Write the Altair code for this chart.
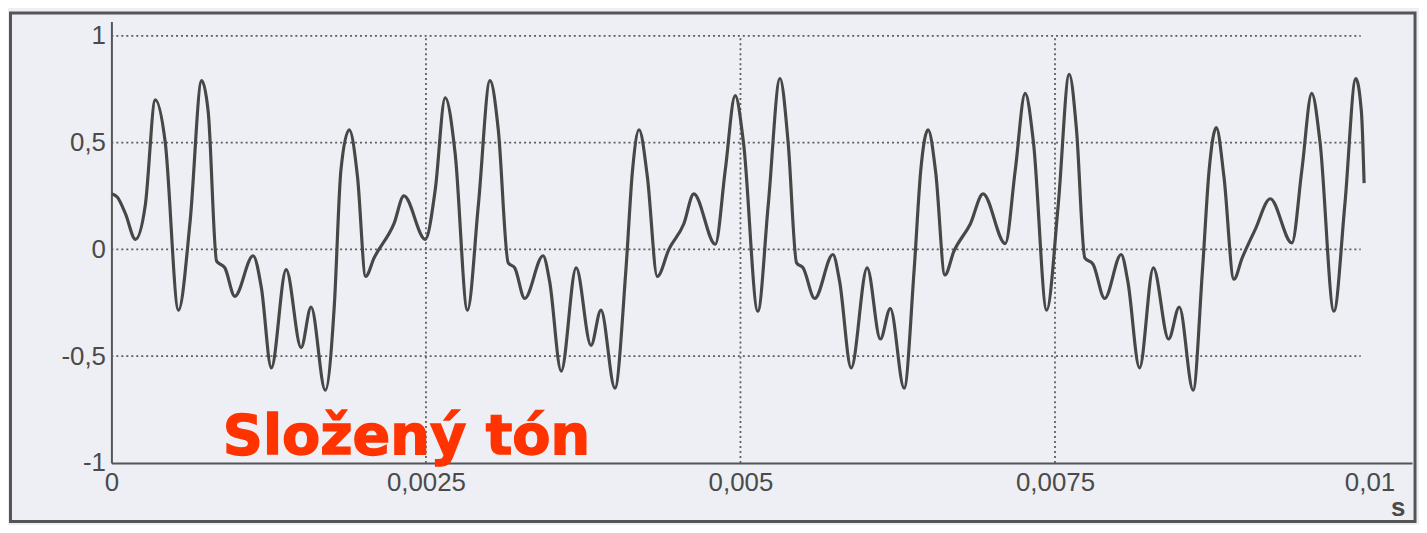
import altair as alt
import pandas as pd

# time in milliseconds (converted to seconds below) and amplitude
t_ms = [0.000, 0.046, 0.112, 0.191, 0.270, 0.349, 0.428, 0.533, 0.626, 0.717,
        0.770, 0.836, 0.902, 0.981, 1.126, 1.192, 1.271, 1.389, 1.508, 1.587,
        1.700, 1.772, 1.824, 1.890, 1.956, 2.021, 2.088, 2.246, 2.325, 2.495,
        2.574, 2.653, 2.732, 2.830, 2.917, 3.009, 3.075, 3.154, 3.206, 3.285,
        3.431, 3.483, 3.575, 3.694, 3.812, 3.891, 4.002, 4.089, 4.142, 4.194,
        4.260, 4.339, 4.431, 4.550, 4.629, 4.800, 4.879, 4.958, 5.024, 5.138,
        5.221, 5.314, 5.379, 5.446, 5.498, 5.590, 5.735, 5.788, 5.880, 6.007,
        6.112, 6.191, 6.301, 6.380, 6.433, 6.491, 6.552, 6.625, 6.696, 6.828,
        6.928, 7.105, 7.184, 7.263, 7.329, 7.434, 7.526, 7.613, 7.671, 7.737,
        7.803, 7.895, 8.026, 8.079, 8.172, 8.282, 8.403, 8.488, 8.598, 8.672,
        8.725, 8.782, 8.843, 8.922, 8.988, 9.093, 9.211, 9.383, 9.462, 9.541,
        9.607, 9.717, 9.804, 9.891, 9.936, 9.957]
amp = [0.26, 0.245, 0.166, 0.047, 0.21, 0.70, 0.50, -0.285, 0.134, 0.79,
       0.64, -0.055, -0.087, -0.22, -0.03, -0.18, -0.555, -0.095, -0.46, -0.27,
       -0.66, -0.26, 0.37, 0.56, 0.34, -0.127, -0.04, 0.12, 0.25, 0.047,
       0.28, 0.71, 0.45, -0.285, 0.21, 0.79, 0.56, -0.063, -0.087, -0.23,
       -0.03, -0.15, -0.57, -0.087, -0.45, -0.285, -0.65, -0.10, 0.37, 0.56,
       0.34, -0.127, 0.0, 0.12, 0.26, 0.024, 0.37, 0.72, 0.50, -0.29,
       0.21, 0.80, 0.50, -0.063, -0.087, -0.23, -0.024, -0.15, -0.555, -0.087,
       -0.42, -0.277, -0.65, -0.10, 0.37, 0.56, 0.36, -0.12, -0.01, 0.12,
       0.26, 0.027, 0.37, 0.73, 0.50, -0.285, 0.21, 0.82, 0.56, -0.04,
       -0.07, -0.23, -0.024, -0.15, -0.555, -0.087, -0.42, -0.27, -0.66, -0.10,
       0.37, 0.57, 0.34, -0.14, -0.04, 0.095, 0.237, 0.03, 0.37, 0.73,
       0.50, -0.29, 0.21, 0.80, 0.64, 0.31]

x_ticks = [0, 0.0025, 0.005, 0.0075, 0.01]
y_ticks = [-1, -0.5, 0, 0.5, 1]
grid_x = [0.0025, 0.005, 0.0075]
grid_y = [1, 0.5, 0, -0.5]
grid_x_end = 0.00993
title_text = "Složený tón"
unit_text = "s"

df = pd.DataFrame({"t": [v / 1000 for v in t_ms], "a": amp})
gx = pd.DataFrame({"t": grid_x, "y0": [-1] * len(grid_x), "y1": [1] * len(grid_x)})
gy = pd.DataFrame({"a": grid_y, "x0": [0] * len(grid_y), "x1": [grid_x_end] * len(grid_y)})
one = pd.DataFrame({"k": [0]})

x_scale = alt.Scale(domain=[0, 0.010338], nice=False, zero=False)
y_scale = alt.Scale(domain=[-1, 1.0675], nice=False, zero=False)

lab = "replace(toString(datum.value), '.', ',')"
GREY = "#4a4a4a"

x_axis = alt.Axis(values=x_ticks, labelExpr=lab, title=None, grid=False, ticks=False,
                  domainColor="#555555", domainWidth=2, labelFont="Liberation Sans",
                  labelFontSize=26, labelColor=GREY, labelPadding=7,
                  labelFlush=False, labelOverlap=False)
y_axis = alt.Axis(values=y_ticks, labelExpr=lab, title=None, grid=False, ticks=False,
                  domainColor="#555555", domainWidth=2, labelFont="Liberation Sans",
                  labelFontSize=26, labelColor=GREY, labelPadding=6,
                  labelFlush=False, labelOverlap=False)

line = alt.Chart(df).mark_line(interpolate="monotone", color="#474747",
                               strokeWidth=3.2, clip=True).encode(
    x=alt.X("t:Q", scale=x_scale, axis=x_axis),
    y=alt.Y("a:Q", scale=y_scale, axis=y_axis),
)

vgrid = alt.Chart(gx).mark_rule(color="#5e5e5e", strokeWidth=1.8, strokeDash=[2, 3]).encode(
    x=alt.X("t:Q", scale=x_scale, axis=x_axis),
    y=alt.Y("y0:Q", scale=y_scale, axis=y_axis),
    y2="y1:Q",
)
hgrid = alt.Chart(gy).mark_rule(color="#5e5e5e", strokeWidth=1.8, strokeDash=[2, 3]).encode(
    y=alt.Y("a:Q", scale=y_scale, axis=y_axis),
    x=alt.X("x0:Q", scale=x_scale, axis=x_axis),
    x2="x1:Q",
)

frame = alt.Chart(one).mark_rect(fillOpacity=0, stroke="#555555", strokeWidth=3).encode(
    x=alt.value(-101.5), x2=alt.value(1311), y=alt.value(-8.5), y2=alt.value(503)
)

title = alt.Chart(one).mark_text(text=title_text, font="DejaVu Sans", fontWeight="bold",
                                 fontSize=56, color="#ff3300", stroke="#ff3300",
                                 strokeWidth=1.4, align="left",
                                 baseline="alphabetic").encode(
    x=alt.value(112), y=alt.value(435)
)

unit = alt.Chart(one).mark_text(text=unit_text, font="Liberation Sans", fontWeight="bold",
                                fontSize=26, color=GREY, align="center",
                                baseline="alphabetic").encode(
    x=alt.value(1294), y=alt.value(497)
)

chart = alt.layer(hgrid, vgrid, line, frame, title, unit).properties(
    width=1308, height=444,
    padding={"left": 104, "top": 12, "right": 7, "bottom": 61},
    autosize=alt.AutoSizeParams(type="none"),
).configure(background="#edeff4").configure_view(stroke=None)

chart.save("out.html", embed_options={"renderer": "svg", "actions": False})
